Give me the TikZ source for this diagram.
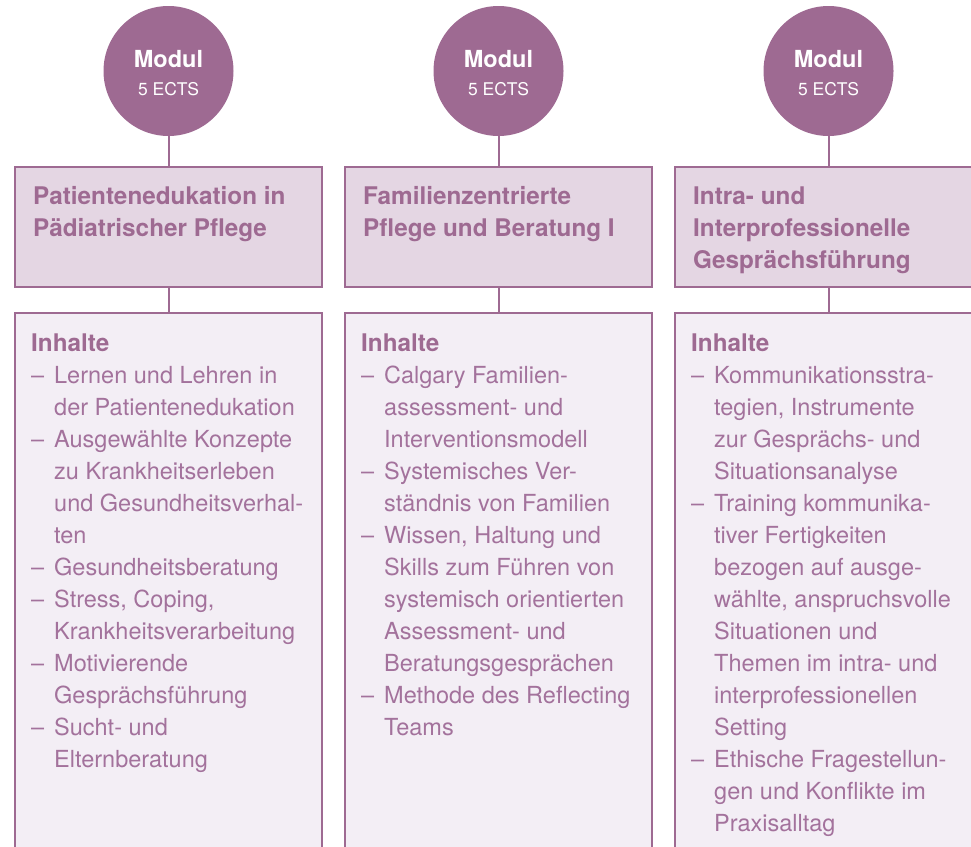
\documentclass[tikz,border=0pt]{standalone}
\usepackage{fontspec}
\setmainfont{TeX Gyre Heros}
\usetikzlibrary{positioning}
\definecolor{modpurple}{RGB}{158,106,146}
\definecolor{modtext}{RGB}{163,114,156}
\definecolor{titlefill}{RGB}{228,214,227}
\definecolor{contentfill}{RGB}{243,238,245}
\newcommand{\itm}[1]{\makebox[23pt][l]{--}#1}
\newcommand{\cnt}[1]{\hspace*{23pt}#1}
\newcommand{\inh}{{\fontsize{24.3}{32}\selectfont\bfseries\color{modpurple}Inhalte}}
\newcommand{\modlabel}{\begin{tabular}{@{}c@{}}
    \rule{0pt}{28.4pt}{\bfseries Modul}\\ {\fontsize{17.5}{28}\selectfont 5 ECTS}\end{tabular}}
\begin{document}
\begin{tikzpicture}[
                x=1pt, y=-1pt,
                modcircle/.style = {
                    circle,
                    fill=modpurple,
                    text=white,
                    minimum size = 130pt,
                    inner sep = 0pt,
                    outer sep = 0pt,
                    font=\fontsize{23.5}{28}\selectfont
                },
                titlebox/.style = {
                    draw=modpurple, line width=2pt, fill=titlefill,
                    minimum width=307pt, minimum height=120pt,
                    inner sep=0pt, outer sep=0pt
                },
                contentbox/.style = {
                    draw=modpurple, line width=2pt, fill=contentfill,
                    minimum width=307pt, minimum height=570pt,
                    inner sep=0pt, outer sep=0pt
                },
                titletext/.style = {anchor=base west, inner sep=0pt, text=modpurple,
                    font=\fontsize{24.3}{32}\selectfont\bfseries},
                listtext/.style = {anchor=base west, inner sep=0pt, text=modtext,
                    font=\fontsize{23.5}{32}\selectfont},
                link/.style = {draw=modpurple, line width=2pt}
            ]
            \useasboundingbox (0,0) rectangle (971,846);
            \clip (0,0) rectangle (971,846);
            %
            \node[modcircle] (m1) at (168.5,71) {\modlabel};
            \node[modcircle] (m2) at (498.5,71) {\modlabel};
            \node[modcircle] (m3) at (828.5,71) {\modlabel};
            %
            \node[titlebox, below=31pt of m1] (t1) {};
            \node[titlebox, below=31pt of m2] (t2) {};
            \node[titlebox, below=31pt of m3] (t3) {};
            %
            \node[contentbox, below=26pt of t1] (c1) {};
            \node[contentbox, below=26pt of t2] (c2) {};
            \node[contentbox, below=26pt of t3] (c3) {};
            %
            \draw[link] (m1) -- (t1);
            \draw[link] (t1) -- (c1);
            \draw[link] (m2) -- (t2);
            \draw[link] (t2) -- (c2);
            \draw[link] (m3) -- (t3);
            \draw[link] (t3) -- (c3);
            %
            \node[titletext] (tt1) at (33,204) {\begin{tabular}[t]{@{}l@{}}
                Patientenedukation in\\ Pädiatrischer Pflege\end{tabular}};
            \node[titletext] (tt2) at (363,204) {\begin{tabular}[t]{@{}l@{}}
                Familienzentrierte\\ Pflege und Beratung I\end{tabular}};
            \node[titletext] (tt3) at (693,204) {\begin{tabular}[t]{@{}l@{}}
                Intra- und\\ Interprofessionelle\\ Gesprächsführung\end{tabular}};
            %
            \node[listtext] (l1) at (31,351) {\begin{tabular}[t]{@{}l@{}}
                \inh\\
                \itm{Lernen und Lehren in}\\ \cnt{der Patientenedukation}\\
                \itm{Ausgewählte Konzepte}\\ \cnt{zu Krankheitserleben}\\
                \cnt{und Gesundheitsverhal-}\\ \cnt{ten}\\
                \itm{Gesundheitsberatung}\\
                \itm{Stress, Coping,}\\ \cnt{Krankheitsverarbeitung}\\
                \itm{Motivierende}\\ \cnt{Gesprächsführung}\\
                \itm{Sucht- und}\\ \cnt{Elternberatung}\end{tabular}};
            \node[listtext] (l2) at (361,351) {\begin{tabular}[t]{@{}l@{}}
                \inh\\
                \itm{Calgary Familien-}\\ \cnt{assessment- und}\\
                \cnt{Interventionsmodell}\\
                \itm{Systemisches Ver-}\\ \cnt{ständnis von Familien}\\
                \itm{Wissen, Haltung und}\\ \cnt{Skills zum Führen von}\\
                \cnt{systemisch orientierten}\\ \cnt{Assessment- und}\\
                \cnt{Beratungsgesprächen}\\
                \itm{Methode des Reflecting}\\ \cnt{Teams}\end{tabular}};
            \node[listtext] (l3) at (691,351) {\begin{tabular}[t]{@{}l@{}}
                \inh\\
                \itm{Kommunikationsstra-}\\ \cnt{tegien, Instrumente}\\
                \cnt{zur Gesprächs- und}\\ \cnt{Situationsanalyse}\\
                \itm{Training kommunika-}\\ \cnt{tiver Fertigkeiten}\\
                \cnt{bezogen auf ausge-}\\ \cnt{wählte, anspruchsvolle}\\
                \cnt{Situationen und}\\ \cnt{Themen im intra- und}\\
                \cnt{interprofessionellen}\\ \cnt{Setting}\\
                \itm{Ethische Fragestellun-}\\ \cnt{gen und Konflikte im}\\
                \cnt{Praxisalltag}\end{tabular}};
            %
        \end{tikzpicture}
\end{document}
